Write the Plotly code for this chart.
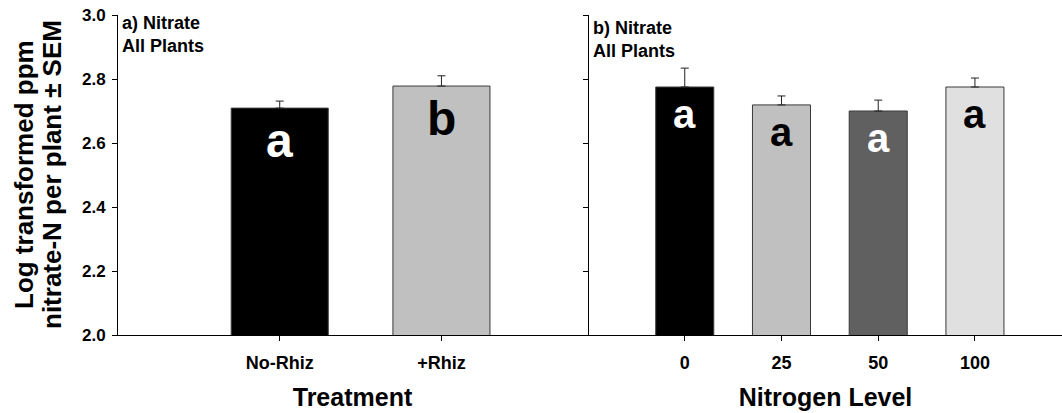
import plotly.graph_objects as go

# Data
treat_cats = ["No-Rhiz", "+Rhiz"]
treat_vals = [2.709, 2.778]
treat_err = [0.022, 0.032]
treat_letters = ["a", "b"]
treat_colors = ["#000000", "#c0c0c0"]
treat_letter_colors = ["white", "black"]

n_cats = ["0", "25", "50", "100"]
n_vals = [2.775, 2.719, 2.700, 2.775]
n_err = [0.059, 0.028, 0.034, 0.028]
n_letters = ["a", "a", "a", "a"]
n_colors = ["#000000", "#c0c0c0", "#606060", "#e0e0e0"]
n_letter_colors = ["white", "black", "white", "black"]

y_ticks = [2.0, 2.2, 2.4, 2.6, 2.8, 3.0]
y_title_lines = ["Log transformed ppm", "nitrate-N per plant ± SEM"]

FONT = "Liberation Sans, Arial, sans-serif"

fig = go.Figure()

fig.add_trace(go.Bar(
    x=list(range(len(treat_cats))), y=treat_vals, width=0.6,
    marker=dict(color=treat_colors, line=dict(color="#3a3a3a", width=1)),
    error_y=dict(type="data", array=treat_err, arrayminus=[0]*len(treat_err),
                 symmetric=False, color="#222222", thickness=1, width=4),
    xaxis="x", yaxis="y", showlegend=False, hoverinfo="skip"))

fig.add_trace(go.Bar(
    x=list(range(len(n_cats))), y=n_vals, width=0.6,
    marker=dict(color=n_colors, line=dict(color="#3a3a3a", width=1)),
    error_y=dict(type="data", array=n_err, arrayminus=[0]*len(n_err),
                 symmetric=False, color="#222222", thickness=1, width=4),
    xaxis="x2", yaxis="y2", showlegend=False, hoverinfo="skip"))

W, L = 1062, 118
PW = W - L
left_end = (587 - L) / PW
right_start = (589 - L) / PW

axis_common = dict(showgrid=False, zeroline=False, showline=True, linecolor="black",
                   linewidth=1, ticks="outside", ticklen=5, tickcolor="black")

fig.update_layout(
    width=1062, height=413,
    margin=dict(l=L, r=0, t=15, b=78),
    paper_bgcolor="white", plot_bgcolor="white",
    font=dict(family=FONT, color="black"),
    xaxis=dict(domain=[0, left_end], range=[-1.0, 1.9],
               tickvals=list(range(len(treat_cats))),
               ticktext=[f"<b>{t}</b>" for t in treat_cats],
               tickfont=dict(size=18), ticklabelstandoff=6,
               title=dict(text="<b>Treatment</b>", font=dict(size=25), standoff=16),
               **axis_common),
    yaxis=dict(range=[2.0, 3.0], tickvals=y_ticks,
               ticktext=[f"<b>{v:.1f}</b>" for v in y_ticks],
               tickfont=dict(size=17), ticklabelstandoff=3,
               **axis_common),
    xaxis2=dict(domain=[right_start, 1], range=[-0.99, 3.9], anchor="y2",
                tickvals=list(range(len(n_cats))),
                ticktext=[f"<b>{t}</b>" for t in n_cats],
                tickfont=dict(size=18), ticklabelstandoff=6,
                title=dict(text="<b>Nitrogen Level</b>", font=dict(size=25), standoff=16),
                **axis_common),
    yaxis2=dict(range=[2.0, 3.0], tickvals=y_ticks, showticklabels=False,
                anchor="x2", **axis_common),
)

annotations = []
for i, (v, t, c) in enumerate(zip(treat_vals, treat_letters, treat_letter_colors)):
    annotations.append(dict(x=i, y=v - 0.1, xref="x", yref="y", text=f"<b>{t}</b>",
                            showarrow=False, font=dict(size=48, color=c, family=FONT),
                            yanchor="middle"))
for i, (v, t, c) in enumerate(zip(n_vals, n_letters, n_letter_colors)):
    annotations.append(dict(x=i, y=v - 0.085, xref="x2", yref="y2", text=f"<b>{t}</b>",
                            showarrow=False, font=dict(size=40, color=c, family=FONT),
                            yanchor="middle"))
annotations.append(dict(x=-1.0, y=3.0, xref="x", yref="y", xanchor="left", yanchor="top",
                        xshift=2, yshift=4, align="left", showarrow=False,
                        text="<b>a) Nitrate<br>All Plants</b>",
                        font=dict(size=18, family=FONT)))
annotations.append(dict(x=-0.99, y=3.0, xref="x2", yref="y2", xanchor="left", yanchor="top",
                        xshift=2, yshift=-1, align="left", showarrow=False,
                        text="<b>b) Nitrate<br>All Plants</b>",
                        font=dict(size=18, family=FONT)))
# y-axis title as two rotated lines (tighter line spacing than default)
for px, line in zip([24, 52], y_title_lines):
    annotations.append(dict(x=(px - L) / PW, y=0.5, xref="paper", yref="paper",
                            xanchor="center", yanchor="middle", textangle=-90,
                            showarrow=False, text=f"<b>{line}</b>",
                            font=dict(size=26, family=FONT)))
fig.update_layout(annotations=annotations)

fig.write_html("out.html")
